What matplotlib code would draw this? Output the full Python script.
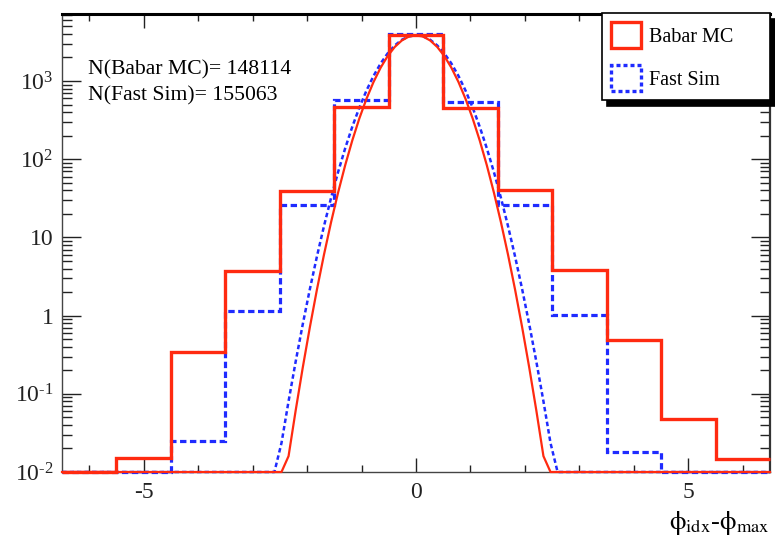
import numpy as np
import matplotlib
matplotlib.use("Agg")
import matplotlib.pyplot as plt
from matplotlib.patches import Patch
from matplotlib.ticker import FixedLocator, FixedFormatter, LogLocator, NullFormatter, MultipleLocator

plt.rcParams['font.family'] = ['Liberation Serif', 'DejaVu Serif']
plt.rcParams['mathtext.fontset'] = 'custom'
plt.rcParams['mathtext.rm'] = 'Liberation Serif'
plt.rcParams['mathtext.it'] = 'Liberation Serif:italic'
plt.rcParams['axes.unicode_minus'] = False

# histogram bins (width 1, centred on integers)
bin_edges = np.arange(-6.5, 7.0, 1.0)
babar_mc = [0.0, 0.015, 0.34, 3.7, 39, 460, 3850, 455, 40, 3.8, 0.49, 0.047, 0.0147]
fast_sim = [0.0, 0.0, 0.025, 1.13, 25.7, 570, 3950, 535, 26, 1.03, 0.0178, 0.0, 0.0]

# gaussian fit parameters (amplitude, mean, sigma)
babar_fit = (3850, 0.0, 0.47)
fast_fit = (3850, 0.0, 0.504)

n_babar = 148114
n_fast = 155063

YMIN, YMAX = 0.01, 7200
RED = '#ff2a10'
BLUE = '#1f2bff'

fig = plt.figure(figsize=(7.75, 5.47), dpi=100)
ax = fig.add_axes([62 / 775, 1 - 472 / 547, 708 / 775, 458 / 547])

# fit curve sampled like ROOT (100 steps over the range), clamped at the minimum
xf = np.linspace(-6.5, 6.5, 101)


def fit_curve(p):
    a, mu, s = p
    return np.clip(a * np.exp(-0.5 * ((xf - mu) / s) ** 2), YMIN, None)


ax.stairs(np.clip(fast_sim, YMIN, None), bin_edges, color=BLUE, lw=2.3,
          linestyle=(0, (2.0, 1.1)), baseline=None, clip_on=False, zorder=3)
ax.plot(xf, fit_curve(fast_fit), color=BLUE, lw=1.8, linestyle=(0, (1.8, 1.2)),
        clip_on=False, zorder=3)
ax.stairs(np.clip(babar_mc, YMIN, None), bin_edges, color=RED, lw=2.4,
          baseline=None, clip_on=False, zorder=4)
ax.plot(xf, fit_curve(babar_fit), color=RED, lw=1.6, clip_on=False, zorder=4)

ax.set_yscale('log')
ax.set_xlim(-6.5, 6.5)
ax.set_ylim(YMIN, YMAX)

ax.xaxis.set_major_locator(FixedLocator([-5, 0, 5]))
ax.xaxis.set_minor_locator(MultipleLocator(1))
ax.yaxis.set_major_locator(FixedLocator([1e-2, 1e-1, 1, 10, 1e2, 1e3]))
ax.yaxis.set_major_formatter(FixedFormatter([r'$10^{\text{-}2}$', r'$10^{\text{-}1}$', '1', '10',
                                             '$10^{2}$', '$10^{3}$']))
ax.yaxis.set_minor_locator(LogLocator(base=10, subs=np.arange(2, 10)))
ax.yaxis.set_minor_formatter(NullFormatter())

ax.tick_params(axis='x', which='major', direction='in', length=10, width=1,
               top=True, labelsize=17, pad=7, colors='#222')
ax.tick_params(axis='x', which='minor', direction='in', length=5, width=1,
               top=True, colors='#222')
ax.tick_params(axis='y', which='major', direction='in', length=14, width=1,
               right=True, labelsize=17, pad=6, colors='#222')
ax.tick_params(axis='y', which='minor', direction='in', length=7, width=1,
               right=True, colors='#222')

for side in ['left', 'bottom']:
    ax.spines[side].set_linewidth(1)
    ax.spines[side].set_color('#444')
ax.spines['top'].set_linewidth(2.2)
ax.spines['top'].set_color('black')
ax.spines['right'].set_linewidth(1.6)
ax.spines['right'].set_color('#333')

ax.set_xlabel(r'$\mathrm{\phi}_{\rm idx}$-$\mathrm{\phi}_{\rm max}$', fontsize=19,
              loc='right', math_fontfamily='stix')
ax.xaxis.set_label_coords(1.0, -0.08)

fig.text(88 / 775, 1 - 70 / 547, f'N(Babar MC)= {n_babar}', fontsize=15.6, va='center')
fig.text(88 / 775, 1 - 96 / 547, f'N(Fast Sim)= {n_fast}', fontsize=15.6, va='center')

handles = [Patch(facecolor='none', edgecolor=RED, lw=2.4, label='Babar MC'),
           Patch(facecolor='none', edgecolor=BLUE, lw=2.4, linestyle=(0, (1.2, 0.9)),
                 label='Fast Sim')]
leg = ax.legend(handles=handles, loc='upper left',
                bbox_to_anchor=(602 / 775, 1 - 100 / 547, 168 / 775, 87 / 547),
                bbox_transform=fig.transFigure, mode='expand', borderaxespad=0,
                fontsize=14.5, handlelength=1.5, handleheight=1.6,
                labelspacing=0.85, borderpad=0.45, handletextpad=0.4,
                fancybox=False, edgecolor='black', framealpha=1,
                shadow={'color': 'black', 'alpha': 1, 'ox': 3.5, 'oy': -4})
leg.get_frame().set_linewidth(1.2)

fig.savefig('out.png', dpi=100)
